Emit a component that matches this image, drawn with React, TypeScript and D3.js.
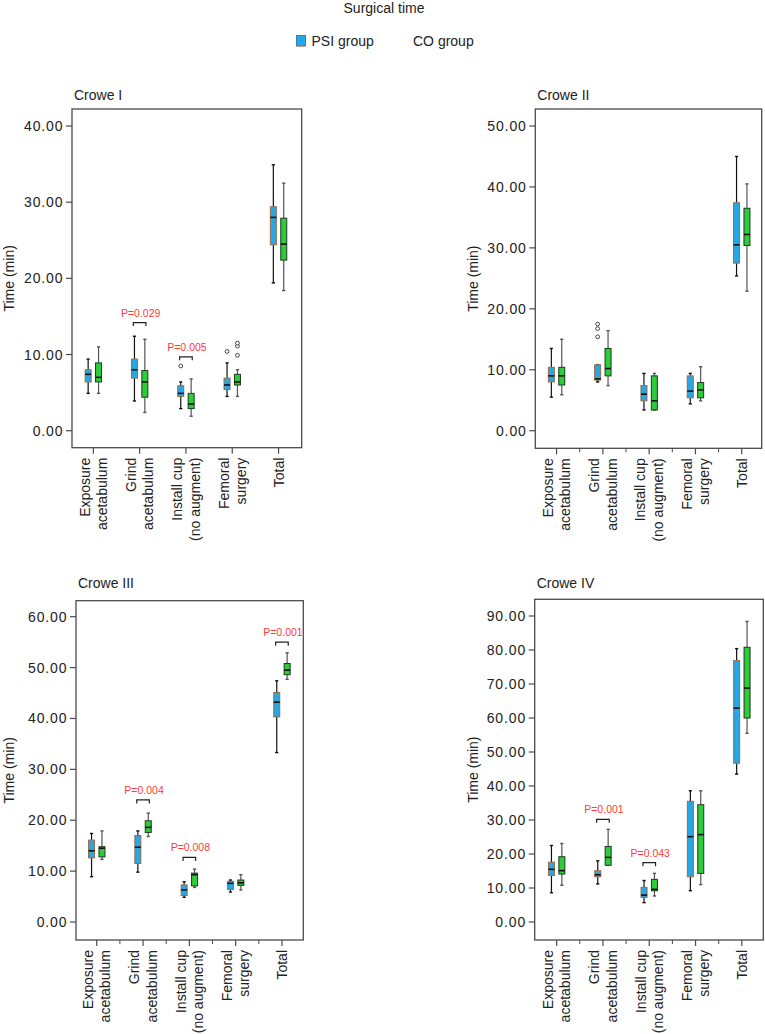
import React from "react";
import * as d3 from "d3";

// ---------- data ----------
const categories = ["Exposure acetabulum", "Grind acetabulum", "Install cup (no augment)", "Femoral surgery", "Total"];
const categoryLines = [["Exposure", "acetabulum"], ["Grind", "acetabulum"], ["Install cup", "(no augment)"], ["Femoral", "surgery"], ["Total"]];
const groups = ["PSI group", "CO group"];

// [min, q1, median, q3, max]
const crowe1PSI = [[4.9, 6.4, 7.4, 8.0, 9.4], [3.9, 6.9, 8.0, 9.4, 12.4], [2.9, 4.5, 4.9, 5.9, 6.4], [4.5, 5.4, 6.0, 6.9, 8.9], [19.4, 24.4, 28.0, 29.4, 34.9]];
const crowe1CO = [[4.9, 6.4, 7.0, 8.9, 11.0], [2.4, 4.4, 6.4, 7.9, 12.0], [1.9, 2.9, 3.5, 4.9, 6.8], [4.5, 6.0, 6.4, 7.4, 8.0], [18.4, 22.4, 24.5, 27.9, 32.5]];
const crowe1PSIOut = [[], [], [8.5], [10.4], []];
const crowe1COOut = [[], [], [], [9.9, 11.1, 11.5], []];
const crowe1Sig = [{ cat: 1, label: "P=0.029", at: 14.2 }, { cat: 2, label: "P=0.005", at: 9.7 }];
const crowe1Ticks = [0, 10, 20, 30, 40];

const crowe2PSI = [[5.5, 8.0, 9.0, 10.4, 13.5], [8.0, 8.3, 8.5, 10.8, 10.8], [3.4, 4.9, 6.0, 7.4, 9.4], [4.4, 5.4, 6.5, 9.0, 9.4], [25.4, 27.5, 30.5, 37.4, 45.0]];
const crowe2CO = [[5.9, 7.5, 9.0, 10.4, 15.0], [7.4, 9.0, 10.2, 13.5, 16.4], [3.4, 3.4, 4.9, 9.0, 9.4], [4.9, 5.4, 6.7, 7.9, 10.5], [22.9, 30.4, 32.2, 36.5, 40.5]];
const crowe2PSIOut = [[], [15.4, 16.75, 17.5], [], [], []];
const crowe2COOut = [[], [], [], [], []];
const crowe2Sig: { cat: number; label: string; at: number }[] = [];
const crowe2Ticks = [0, 10, 20, 30, 40, 50];

const crowe3PSI = [[8.9, 12.6, 14.0, 16.1, 17.4], [9.8, 11.5, 14.7, 17.0, 17.9], [4.85, 5.2, 6.3, 7.3, 7.9], [5.9, 6.4, 7.6, 8.0, 8.25], [33.3, 40.3, 43.2, 45.1, 47.4]];
const crowe3CO = [[12.3, 12.8, 14.5, 14.8, 17.9], [16.8, 17.6, 18.6, 19.9, 21.4], [6.8, 7.1, 9.3, 9.6, 10.4], [6.3, 7.2, 7.7, 8.25, 9.3], [47.7, 48.6, 49.5, 50.8, 52.9]];
const crowe3PSIOut = [[], [], [], [], []];
const crowe3COOut = [[], [], [], [], []];
const crowe3Sig = [{ cat: 1, label: "P=0.004", at: 24.0 }, { cat: 2, label: "P=0.008", at: 12.7 }, { cat: 4, label: "P=0.001", at: 55.0 }];
const crowe3Ticks = [0, 10, 20, 30, 40, 50, 60];

const crowe4PSI = [[8.6, 13.7, 15.5, 17.6, 22.5], [11.2, 13.3, 13.9, 15.1, 18.0], [5.7, 7.25, 7.9, 10.2, 12.2], [9.2, 13.3, 25.1, 35.5, 38.6], [43.5, 46.7, 62.9, 76.9, 80.4]];
const crowe4CO = [[10.8, 14.1, 15.1, 19.2, 23.1], [16.7, 16.7, 19.0, 22.2, 27.25], [7.65, 9.2, 9.6, 12.55, 14.3], [11.0, 14.3, 25.7, 34.5, 38.6], [55.5, 60.0, 68.8, 80.8, 88.4]];
const crowe4PSIOut = [[], [], [], [], []];
const crowe4COOut = [[], [], [], [], []];
const crowe4Sig = [{ cat: 1, label: "P=0.001", at: 30.2 }, { cat: 2, label: "P=0.043", at: 17.45 }];
const crowe4Ticks = [0, 10, 20, 30, 40, 50, 60, 70, 80, 90];

// ---------- style ----------
const FONT = "'Liberation Sans', Arial, Helvetica, sans-serif";
const BLUE = "#27a8e6";
const BLUE_STROKE = "#9c6a45";
const GREEN = "#2ecb3b";
const GREEN_STROKE = "#1e3b1e";
const RED = "#ff3a3a";
const BAND = 46.3;

type Sig = { cat: number; label: string; at: number };
type PanelCfg = {
  title: string;
  psi: number[][];
  co: number[][];
  psiOut: number[][];
  coOut: number[][];
  sig: Sig[];
  ticks: number[];
  frame: { x0: number; x1: number; y0: number; y1: number };
  yRange: [number, number];
  xStart: number;
  titleY: number;
  yLabelX: number;
  minorTicks: boolean;
};

const panels: PanelCfg[] = [
  {
    title: "Crowe I", psi: crowe1PSI, co: crowe1CO, psiOut: crowe1PSIOut, coOut: crowe1COOut, sig: crowe1Sig, ticks: crowe1Ticks,
    frame: { x0: 72, x1: 301.7, y0: 109, y1: 447.7 }, yRange: [430.7, 126], xStart: 70.2, titleY: 100, yLabelX: 14, minorTicks: false,
  },
  {
    title: "Crowe II", psi: crowe2PSI, co: crowe2CO, psiOut: crowe2PSIOut, coOut: crowe2COOut, sig: crowe2Sig, ticks: crowe2Ticks,
    frame: { x0: 535.3, x1: 761.7, y0: 109, y1: 448.3 }, yRange: [430.7, 126], xStart: 533.4, titleY: 100, yLabelX: 478, minorTicks: true,
  },
  {
    title: "Crowe III", psi: crowe3PSI, co: crowe3CO, psiOut: crowe3PSIOut, coOut: crowe3COOut, sig: crowe3Sig, ticks: crowe3Ticks,
    frame: { x0: 76, x1: 303.3, y0: 600.7, y1: 940 }, yRange: [922, 616.7], xStart: 73.6, titleY: 588, yLabelX: 14, minorTicks: true,
  },
  {
    title: "Crowe IV", psi: crowe4PSI, co: crowe4CO, psiOut: crowe4PSIOut, coOut: crowe4COOut, sig: crowe4Sig, ticks: crowe4Ticks,
    frame: { x0: 534.7, x1: 763.3, y0: 599.3, y1: 940 }, yRange: [922, 616], xStart: 533.5, titleY: 588, yLabelX: 478, minorTicks: true,
  },
];

const fmt = d3.format(".2f");

function Box({ cx, stats, outliers, y, fill, stroke, whisker }: any) {
  const [mn, q1, md, q3, mx] = stats;
  const w = 6;
  const cap = 1.6;
  return (
    <g>
      {mx > q3 && <line x1={cx} x2={cx} y1={y(mx)} y2={y(q3)} stroke={whisker} strokeWidth={1.2} />}
      {q1 > mn && <line x1={cx} x2={cx} y1={y(q1)} y2={y(mn)} stroke={whisker} strokeWidth={1.2} />}
      <line x1={cx - cap} x2={cx + cap} y1={y(mx)} y2={y(mx)} stroke={whisker} strokeWidth={1.4} />
      <line x1={cx - cap} x2={cx + cap} y1={y(mn)} y2={y(mn)} stroke={whisker} strokeWidth={1.4} />
      <rect x={cx - w / 2} y={y(q3)} width={w} height={Math.max(1, y(q1) - y(q3))} fill={fill} stroke={stroke} strokeWidth={1} />
      <line x1={cx - w / 2} x2={cx + w / 2} y1={y(md)} y2={y(md)} stroke="#111" strokeWidth={1.6} />
      {outliers.map((o: number, i: number) => (
        <circle key={i} cx={cx} cy={y(o)} r={1.9} fill="#fff" stroke="#333" strokeWidth={0.9} />
      ))}
    </g>
  );
}

function Panel({ cfg }: { cfg: PanelCfg }) {
  const { frame } = cfg;
  const y = d3.scaleLinear().domain([0, cfg.ticks[cfg.ticks.length - 1]]).range(cfg.yRange);
  const x = d3.scaleBand().domain(categories).range([cfg.xStart, cfg.xStart + BAND * categories.length]).padding(0);
  const g = d3.scalePoint().domain(groups).range([-5.2, 5.2]);
  const center = (c: string) => (x(c) as number) + x.bandwidth() / 2;
  const yMid = (frame.y0 + frame.y1) / 2;
  return (
    <g fontFamily={FONT}>
      <text x={frame.x0 + 2} y={cfg.titleY} fontSize={14} fill="#222">{cfg.title}</text>
      <rect x={frame.x0} y={frame.y0} width={frame.x1 - frame.x0} height={frame.y1 - frame.y0} fill="none" stroke="#4a4a4a" strokeWidth={1.3} />
      {/* y axis */}
      {cfg.ticks.map((t) => (
        <g key={t}>
          <line x1={frame.x0 - 6} x2={frame.x0} y1={y(t)} y2={y(t)} stroke="#4a4a4a" strokeWidth={1.2} />
          <text x={frame.x0 - 8.5} y={y(t) + 5} textAnchor="end" fontSize={14} letterSpacing={0.9} fill="#222">{fmt(t)}</text>
        </g>
      ))}
      <text transform={`translate(${cfg.yLabelX},${yMid}) rotate(-90)`} textAnchor="middle" fontSize={14} fill="#222">Time (min)</text>
      {/* x axis */}
      {categories.map((c, i) => {
        const cx = center(c);
        const lines = categoryLines[i];
        return (
          <g key={c}>
            <line x1={cx} x2={cx} y1={frame.y1} y2={frame.y1 + 6} stroke="#4a4a4a" strokeWidth={1.2} />
            {cfg.minorTicks && i > 0 && (
              <line x1={x(c) as number} x2={x(c) as number} y1={frame.y1} y2={frame.y1 + 4} stroke="#4a4a4a" strokeWidth={1} />
            )}
            {lines.map((ln, j) => {
              const lx = cx + (j - (lines.length - 1) / 2) * 17.4 + 5;
              return (
                <text key={j} transform={`translate(${lx},${frame.y1 + 10}) rotate(-90)`} textAnchor="end" fontSize={14} fill="#222">{ln}</text>
              );
            })}
          </g>
        );
      })}
      {/* boxes */}
      {categories.map((c, i) => (
        <g key={c}>
          <Box cx={center(c) + (g("PSI group") as number)} stats={cfg.psi[i]} outliers={cfg.psiOut[i]} y={y} fill={BLUE} stroke={BLUE_STROKE} whisker="#111" />
          <Box cx={center(c) + (g("CO group") as number)} stats={cfg.co[i]} outliers={cfg.coOut[i]} y={y} fill={GREEN} stroke={GREEN_STROKE} whisker="#555" />
        </g>
      ))}
      {/* significance */}
      {cfg.sig.map((s) => {
        const cx = center(categories[s.cat]);
        const by = y(s.at);
        return (
          <g key={s.label + s.cat}>
            <path d={`M${cx - 6.3},${by + 3.5}V${by}H${cx + 6.3}V${by + 3.5}`} fill="none" stroke="#222" strokeWidth={1.2} />
            <text x={cx + 1} y={by - 6} textAnchor="middle" fontSize={10.5} fill={RED}>{s.label}</text>
          </g>
        );
      })}
    </g>
  );
}

export default function App() {
  return (
    <div style={{ position: "absolute", left: 0, top: 0 }}>
      <svg width={765} height={1034} style={{ display: "block", background: "#fff" }}>
        <text x={384} y={13} textAnchor="middle" fontFamily={FONT} fontSize={14} fill="#222">Surgical time</text>
        <rect x={296.5} y={35.5} width={9} height={10.5} fill={BLUE} stroke="#1d6fa8" strokeWidth={0.8} />
        <line x1={296.5} x2={305.5} y1={46} y2={46} stroke="#d9703a" strokeWidth={1} />
        <text x={311.5} y={46} fontFamily={FONT} fontSize={14} fill="#222">{groups[0]}</text>
        <text x={413} y={46} fontFamily={FONT} fontSize={14} fill="#222">{groups[1]}</text>
        {panels.map((p) => (
          <Panel key={p.title} cfg={p} />
        ))}
      </svg>
    </div>
  );
}
